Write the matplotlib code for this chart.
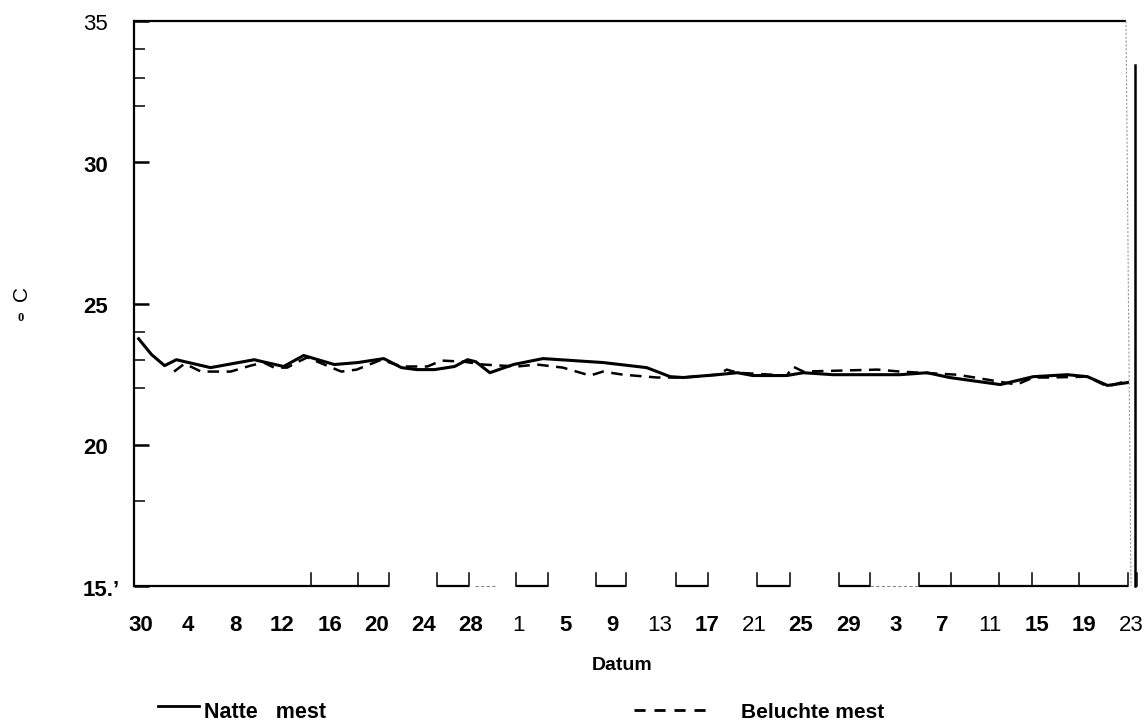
import matplotlib
matplotlib.use("Agg")
import matplotlib.pyplot as plt
from matplotlib.transforms import ScaledTranslation

W, H = 1146, 724
plt.rcParams['font.family'] = ['Liberation Sans', 'DejaVu Sans']

# Day offsets counted from the first date ("30") and the measured temperature in °C
natte_dag = [-0.2, 0.9, 2.0, 3.0, 5.9, 9.6, 12.1, 13.8, 16.4, 18.4, 20.6, 22.1,
             23.4, 24.9, 26.6, 27.7, 28.4, 29.6, 31.6, 34.1, 39.2, 42.9, 44.9,
             46.0, 48.9, 50.6, 51.9, 54.8, 56.2, 58.7, 64.4, 66.7, 68.6, 72.9,
             75.7, 78.6, 80.3, 82.0, 83.7]
natte_temp = [23.75, 23.19, 22.80, 23.01, 22.73, 23.01, 22.77, 23.16, 22.84, 22.91,
              23.05, 22.73, 22.66, 22.66, 22.77, 23.01, 22.94, 22.55, 22.84, 23.05,
              22.91, 22.73, 22.41, 22.38, 22.48, 22.55, 22.45, 22.45, 22.55, 22.48,
              22.48, 22.55, 22.38, 22.13, 22.41, 22.48, 22.41, 22.10, 22.20]

belucht_dag = [2.8, 3.7, 5.1, 7.6, 9.3, 10.4, 11.3, 12.4, 13.2, 14.1, 17.0, 18.3,
               20.4, 22.1, 24.3, 25.5, 27.4, 29.0, 31.9, 33.6, 35.8, 38.1, 39.2,
               40.9, 43.8, 46.0, 48.9, 49.7, 50.6, 54.8, 55.3, 56.2, 62.5, 64.4,
               69.2, 70.3, 74.3, 75.7, 76.9, 80.3, 82.0, 83.7]
belucht_temp = [22.59, 22.87, 22.59, 22.59, 22.80, 22.91, 22.73, 22.73, 22.91, 23.09,
                22.59, 22.66, 23.01, 22.77, 22.77, 22.98, 22.94, 22.84, 22.77, 22.84,
                22.73, 22.45, 22.59, 22.48, 22.38, 22.38, 22.48, 22.66, 22.55, 22.45,
                22.77, 22.59, 22.66, 22.59, 22.48, 22.41, 22.13, 22.38, 22.38, 22.41,
                22.06, 22.27]

datum_labels = ['30', '4', '8', '12', '16', '20', '24', '28', '1', '5', '9', '13',
                '17', '21', '25', '29', '3', '7', '11', '15', '19', '23']
datum_pos = [4 * i for i in range(len(datum_labels))]
datum_weight = ['bold'] * len(datum_labels)
for lab in ('1', '13', '21', '11', '23'):
    datum_weight[datum_labels.index(lab)] = 'normal'

y_ticks = [35, 30, 25, 20, 15]
y_labels = ['35', '30', '25', '20', '15.\u2019']
y_weight = ['normal', 'bold', 'bold', 'bold', 'bold']
y_minor = [34, 33, 32, 24, 23, 22, 18]

fig = plt.figure(figsize=(W / 100, H / 100), dpi=100)
ax = fig.add_axes([134 / W, 1 - 586 / H, 1000 / W, 565 / H])
ax.set_xlim(-0.594, 84.25)
ax.set_ylim(15, 35)

ax.plot(natte_dag, natte_temp, color='black', lw=2.2, solid_joinstyle='round')
ax.plot(belucht_dag, belucht_temp, color='black', lw=1.8, linestyle=(0, (4.6, 3.0)))

# frame: left spine full, top spine almost full, others drawn by hand
for s in ('right', 'bottom', 'top'):
    ax.spines[s].set_visible(False)
ax.spines['left'].set_linewidth(1.6)
ax.plot([0, 0.992], [1, 1], transform=ax.transAxes, color='black', lw=1.6,
        clip_on=False, solid_capstyle='butt')
ax.plot([0.992, 0.997], [1, 0.0], transform=ax.transAxes, color='#9a9a9a', lw=0.8,
        linestyle=(0, (2, 1.5)), clip_on=False)
ax.plot([1.001, 1.001], [0.922, 0.0], transform=ax.transAxes, color='black', lw=1.8,
        clip_on=False)

# broken bottom axis with small upward ticks
seg_black = [(0.0, 0.255), (0.303, 0.335), (0.382, 0.414), (0.462, 0.492),
             (0.542, 0.574), (0.623, 0.656), (0.705, 0.736), (0.785, 0.994)]
seg_grey = [(0.341, 0.361), (0.736, 0.784)]
for a, b in seg_black:
    ax.plot([a, b], [0, 0], transform=ax.transAxes, color='black', lw=1.6,
            clip_on=False, solid_capstyle='butt')
for a, b in seg_grey:
    ax.plot([a, b], [0, 0], transform=ax.transAxes, color='#8a8a8a', lw=0.8,
            linestyle=(0, (3, 2)), clip_on=False)
bottom_ticks = [0.177, 0.224, 0.255, 0.303, 0.335, 0.382, 0.414, 0.462, 0.492,
                0.542, 0.574, 0.623, 0.656, 0.705, 0.736, 0.785, 0.817, 0.865,
                0.898, 0.945, 0.994, 1.003]
for t in bottom_ticks:
    ax.plot([t, t], [0, 0.023], transform=ax.transAxes, color='black', lw=1.1,
            clip_on=False)

# y ticks; labels set as left-aligned text sitting just below each tick
ax.set_yticks(y_ticks)
ax.set_yticks(y_minor, minor=True)
ax.tick_params(axis='y', which='major', direction='in', length=11, width=1.8,
               labelleft=False)
ax.tick_params(axis='y', which='minor', direction='in', length=8, width=1.1)
ylab_trans = ax.get_yaxis_transform() + ScaledTranslation(0, -0.04, fig.dpi_scale_trans)
for v, lab, w in zip(y_ticks, y_labels, y_weight):
    ax.text(-0.051, v, lab, transform=ylab_trans, ha='left', va='center',
            fontsize=16, fontweight=w, clip_on=False)

# x ticks (labels only)
ax.set_xticks(datum_pos)
ax.set_xticklabels(datum_labels)
ax.tick_params(axis='x', which='both', length=0, pad=21, labelsize=16)
for lab, w in zip(ax.get_xticklabels(), datum_weight):
    lab.set_fontweight(w)


def fx(x):
    return x / W


def fy(y):
    return 1 - y / H


fig.text(fx(622), fy(665), 'Datum', ha='center', va='center', fontsize=14,
         fontweight='bold')

# axis unit
fig.text(fx(21), fy(293), 'C', rotation=90, ha='center', va='center', fontsize=15)
fig.text(fx(21), fy(318), '0', ha='center', va='center', fontsize=9,
         fontweight='bold', family=['Liberation Serif', 'DejaVu Serif'])

# legend
fig.lines.append(plt.Line2D([fx(158), fx(199)], [fy(706), fy(706)],
                            transform=fig.transFigure, color='black', lw=2.0))
fig.text(fx(204), fy(713), 'Natte   mest', ha='left', va='center', fontsize=15.5,
         fontweight='bold')
fig.lines.append(plt.Line2D([fx(634), fx(714)], [fy(710), fy(710)],
                            transform=fig.transFigure, color='black', lw=2.0,
                            linestyle=(0, (4.0, 3.2))))
fig.text(fx(741), fy(713), 'Beluchte mest', ha='left', va='center', fontsize=15,
         fontweight='bold')

fig.savefig('out.png', dpi=100)
